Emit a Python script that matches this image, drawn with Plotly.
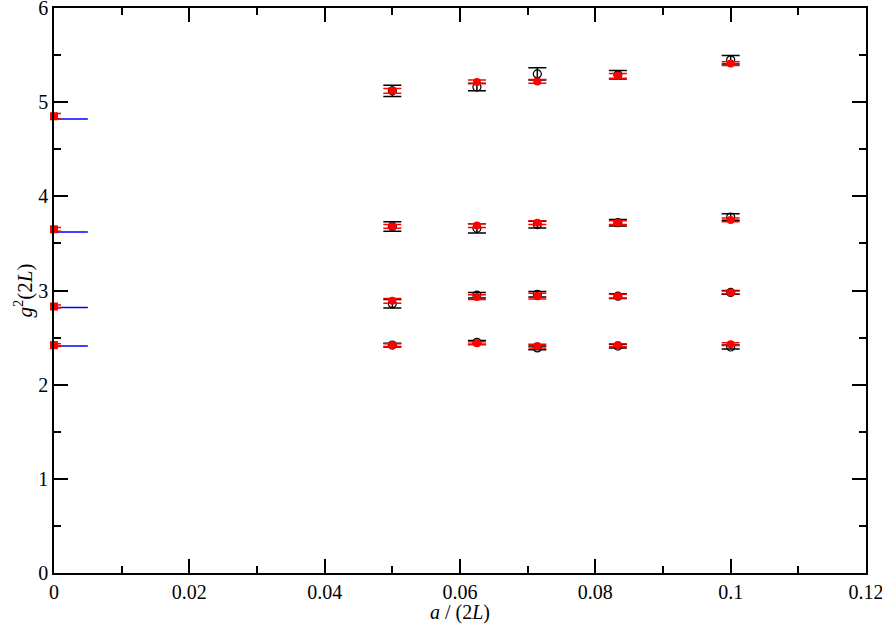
import plotly.graph_objects as go

# data
x_lat = [0.05, 0.0625, 0.0714286, 0.0833333, 0.1]

black_groups = [
    [5.12, 5.16, 5.30, 5.29, 5.45],
    [3.68, 3.66, 3.70, 3.72, 3.78],
    [2.86, 2.95, 2.96, 2.94, 2.98],
    [2.42, 2.45, 2.39, 2.41, 2.40],
]
black_err = [
    [0.06, 0.04, 0.065, 0.045, 0.045],
    [0.05, 0.05, 0.035, 0.035, 0.035],
    [0.045, 0.03, 0.03, 0.025, 0.02],
    [0.02, 0.02, 0.02, 0.02, 0.02],
]
red_groups = [
    [5.12, 5.215, 5.22, 5.28, 5.41],
    [3.68, 3.69, 3.72, 3.72, 3.75],
    [2.89, 2.93, 2.94, 2.94, 2.98],
    [2.42, 2.44, 2.41, 2.42, 2.43],
]
red_err = [
    [0.025, 0.02, 0.02, 0.025, 0.02],
    [0.02, 0.02, 0.02, 0.02, 0.02],
    [0.025, 0.025, 0.03, 0.02, 0.015],
    [0.015, 0.015, 0.02, 0.015, 0.015],
]
x_cont = [0.0, 0.0, 0.0, 0.0]
red_cont = [4.85, 3.65, 2.83, 2.42]
red_cont_err = [0.03, 0.02, 0.015, 0.015]
blue_level = [4.82, 3.62, 2.82, 2.41]
blue_xend = 0.005

fig = go.Figure()

for yb, eb in zip(black_groups, black_err):
    fig.add_trace(go.Scatter(
        x=x_lat, y=yb, mode="markers",
        marker=dict(symbol="circle-open", size=8, color="black", line=dict(width=1.2, color="black")),
        error_y=dict(type="data", array=eb, visible=True, color="black", thickness=1.5, width=9),
        showlegend=False, cliponaxis=False))

for yr, er in zip(red_groups, red_err):
    fig.add_trace(go.Scatter(
        x=x_lat, y=yr, mode="markers",
        marker=dict(symbol="circle", size=8, color="red"),
        error_y=dict(type="data", array=er, visible=True, color="red", thickness=1.5, width=9),
        showlegend=False, cliponaxis=False))

bx, by = [], []
for lv in blue_level:
    bx += [0.0, blue_xend, None]
    by += [lv, lv, None]
fig.add_trace(go.Scatter(x=bx, y=by, mode="lines", line=dict(color="blue", width=1.5),
                         showlegend=False, cliponaxis=False))

fig.add_trace(go.Scatter(
    x=x_cont, y=red_cont, mode="markers",
    marker=dict(symbol="square", size=8, color="red"),
    error_y=dict(type="data", array=red_cont_err, visible=True, color="red", thickness=1.5, width=7),
    showlegend=False, cliponaxis=False))

FAM = "Liberation Serif, Times New Roman, serif"
font = dict(family=FAM, size=20, color="black")
fig.update_layout(
    width=882, height=626,
    margin=dict(l=54, r=16, t=8, b=53),
    plot_bgcolor="white", paper_bgcolor="white",
    font=font,
    xaxis=dict(
        range=[0, 0.12], tickvals=[0, 0.02, 0.04, 0.06, 0.08, 0.1, 0.12],
        ticktext=["0", "0.02", "0.04", "0.06", "0.08", "0.1", "0.12"],
        tickfont=font, automargin=False, ticklabeloverflow="allow",
        ticks="inside", ticklen=14, tickwidth=1.5, tickcolor="black",
        minor=dict(dtick=0.01, ticks="inside", ticklen=7, tickwidth=1.5, tickcolor="black", showgrid=False),
        showline=True, linecolor="black", linewidth=1.5, mirror="allticks",
        showgrid=False, zeroline=False,
    ),
    yaxis=dict(
        range=[0, 6], dtick=1, tickfont=font, automargin=False, ticklabeloverflow="allow",
        ticks="inside", ticklen=14, tickwidth=1.5, tickcolor="black",
        minor=dict(dtick=0.5, ticks="inside", ticklen=7, tickwidth=1.5, tickcolor="black", showgrid=False),
        showline=True, linecolor="black", linewidth=1.5, mirror="allticks",
        showgrid=False, zeroline=False,
        title=dict(text="<i>g</i><sup>2</sup>(2<i>L</i>)", font=dict(family=FAM, size=21, color="black"), standoff=0),
    ),
    annotations=[dict(text="<i>a</i> / (2<i>L</i>)", xref="paper", yref="paper", x=0.5, y=0,
                      xanchor="center", yanchor="middle", yshift=-39, showarrow=False, font=font)],
)

fig.write_html("out.html", config={"displayModeBar": False},
               post_script="document.body.style.margin='0';")
